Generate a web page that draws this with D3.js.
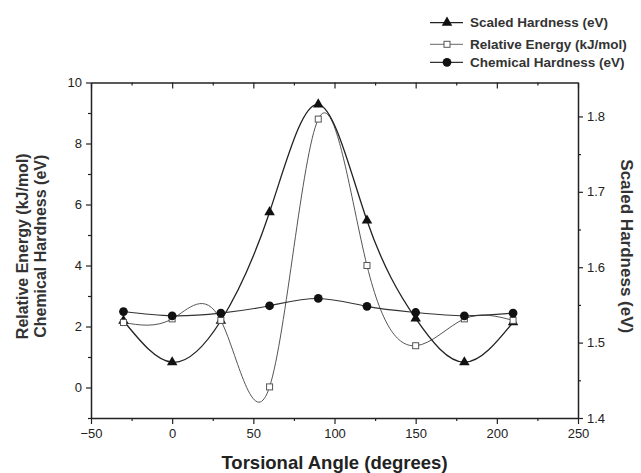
<!DOCTYPE html>
<html>
<head>
<meta charset="utf-8">
<script src="https://cdn.jsdelivr.net/npm/d3@7"></script>
<style>
  html, body { margin: 0; padding: 0; background: #fff; }
  svg { display: block; font-family: "Liberation Sans", Arial, sans-serif; }
</style>
</head>
<body>
<div id="chart"></div>
<script>
// torsional angle vs hardness / energy, dual y axis

const angles = [-30, 0, 30, 60, 90, 120, 150, 180, 210];
const scaledHardness = [1.529, 1.474, 1.529, 1.673, 1.816, 1.662, 1.532, 1.474, 1.527];
const relativeEnergy = [2.13, 2.25, 2.2, 0.02, 8.8, 4.0, 1.37, 2.25, 2.2];
const chemicalHardness = [2.49, 2.35, 2.44, 2.68, 2.92, 2.66, 2.46, 2.35, 2.44];

const xTicks = [-50, 0, 50, 100, 150, 200, 250];
const xMinorTicks = [-25, 25, 75, 125, 175, 225];
const leftTicks = [0, 2, 4, 6, 8, 10];
const leftMinorTicks = [-1, 1, 3, 5, 7, 9];
const rightTicks = [1.4, 1.5, 1.6, 1.7, 1.8];
const rightMinorTicks = [1.45, 1.55, 1.65, 1.75];

const legendLabels = ["Scaled Hardness (eV)", "Relative Energy (kJ/mol)", "Chemical Hardness (eV)"];

function drawChart() {
  const width = 641;
  const height = 473;
  const left = 91, right = 578, top = 82.5, bottom = 418;
  const ink = "#222";

  const svg = d3.select("#chart").append("svg")
    .attr("width", width)
    .attr("height", height);

  const x = d3.scaleLinear().domain([-50, 250]).range([left, right]);
  const yLeft = d3.scaleLinear().domain([-1, 10]).range([bottom, top]);
  const yRight = d3.scaleLinear().domain([1.4, 1.845]).range([bottom, top]);

  function styleAxis(g, fontSize) {
    g.select(".domain").attr("stroke", ink).attr("stroke-width", 1.5);
    g.selectAll(".tick line").attr("stroke", ink).attr("stroke-width", 1.2);
    g.selectAll(".tick text")
      .attr("fill", "#222")
      .attr("font-size", fontSize)
      .attr("font-family", "'Liberation Sans', Arial, sans-serif");
  }

  // bottom axis
  const gx = svg.append("g")
    .attr("transform", "translate(0," + bottom + ")")
    .call(d3.axisBottom(x).tickValues(xTicks).tickSize(6).tickPadding(5).tickSizeOuter(0));
  styleAxis(gx, 13);
  svg.append("g")
    .attr("transform", "translate(0," + bottom + ")")
    .call(d3.axisBottom(x).tickValues(xMinorTicks).tickSize(3).tickFormat(""))
    .call(function(g) { styleAxis(g, 13); g.select(".domain").remove(); });

  // top axis, ticks pointing in
  const gt = svg.append("g")
    .attr("transform", "translate(0," + top + ")")
    .call(d3.axisBottom(x).tickValues(xTicks).tickSize(6).tickFormat("").tickSizeOuter(0));
  styleAxis(gt, 13);
  svg.append("g")
    .attr("transform", "translate(0," + top + ")")
    .call(d3.axisBottom(x).tickValues(xMinorTicks).tickSize(3).tickFormat(""))
    .call(function(g) { styleAxis(g, 13); g.select(".domain").remove(); });

  // left axis
  const gl = svg.append("g")
    .attr("transform", "translate(" + left + ",0)")
    .call(d3.axisLeft(yLeft).tickValues(leftTicks).tickSize(5).tickPadding(4).tickSizeOuter(0));
  styleAxis(gl, 13);
  svg.append("g")
    .attr("transform", "translate(" + left + ",0)")
    .call(d3.axisLeft(yLeft).tickValues(leftMinorTicks).tickSize(3).tickFormat(""))
    .call(function(g) { styleAxis(g, 13); g.select(".domain").remove(); });

  // right axis
  const gr = svg.append("g")
    .attr("transform", "translate(" + right + ",0)")
    .call(d3.axisRight(yRight).tickValues(rightTicks).tickSize(5).tickPadding(4)
      .tickFormat(d3.format(".1f")).tickSizeOuter(0));
  styleAxis(gr, 13);
  svg.append("g")
    .attr("transform", "translate(" + right + ",0)")
    .call(d3.axisRight(yRight).tickValues(rightMinorTicks).tickSize(3).tickFormat(""))
    .call(function(g) { styleAxis(g, 13); g.select(".domain").remove(); });

  // axis titles
  svg.append("text")
    .attr("x", (left + right) / 2)
    .attr("y", 469)
    .attr("text-anchor", "middle")
    .attr("font-size", 18.5)
    .attr("font-weight", "bold")
    .attr("fill", "#222")
    .text("Torsional Angle (degrees)");

  const midY = (top + bottom) / 2;
  svg.append("text")
    .attr("transform", "translate(28," + (midY - 4) + ") rotate(-90)")
    .attr("text-anchor", "middle")
    .attr("font-size", 16)
    .attr("font-weight", "bold")
    .attr("fill", "#333")
    .text("Relative Energy (kJ/mol)");
  svg.append("text")
    .attr("transform", "translate(46," + (midY - 4) + ") rotate(-90)")
    .attr("text-anchor", "middle")
    .attr("font-size", 16)
    .attr("font-weight", "bold")
    .attr("fill", "#333")
    .text("Chemical Hardness (eV)");
  svg.append("text")
    .attr("transform", "translate(621," + (midY - 4) + ") rotate(90)")
    .attr("text-anchor", "middle")
    .attr("font-size", 17)
    .attr("font-weight", "bold")
    .attr("fill", "#333")
    .text("Scaled Hardness (eV)");

  const rows = angles.map(function(a, i) {
    return { a: a, sh: scaledHardness[i], re: relativeEnergy[i], ch: chemicalHardness[i] };
  });

  const curve = d3.curveNatural;

  const lineSH = d3.line().curve(curve)
    .x(function(d) { return x(d.a); })
    .y(function(d) { return yRight(d.sh); });
  const lineRE = d3.line().curve(curve)
    .x(function(d) { return x(d.a); })
    .y(function(d) { return yLeft(d.re); });
  const lineCH = d3.line().curve(curve)
    .x(function(d) { return x(d.a); })
    .y(function(d) { return yLeft(d.ch); });

  svg.append("path").datum(rows)
    .attr("d", lineRE).attr("fill", "none").attr("stroke", "#555").attr("stroke-width", 1);
  svg.append("path").datum(rows)
    .attr("d", lineSH).attr("fill", "none").attr("stroke", "#222").attr("stroke-width", 1.3);
  svg.append("path").datum(rows)
    .attr("d", lineCH).attr("fill", "none").attr("stroke", "#333").attr("stroke-width", 1.1);

  const tri = d3.symbol().type(d3.symbolTriangle).size(48);
  const circ = d3.symbol().type(d3.symbolCircle).size(60);

  svg.append("g").selectAll("path")
    .data(rows)
    .join("path")
    .attr("transform", function(d) { return "translate(" + x(d.a) + "," + yRight(d.sh) + ")"; })
    .attr("d", tri)
    .attr("fill", "#111");

  svg.append("g").selectAll("rect")
    .data(rows)
    .join("rect")
    .attr("x", function(d) { return x(d.a) - 3; })
    .attr("y", function(d) { return yLeft(d.re) - 3; })
    .attr("width", 6)
    .attr("height", 6)
    .attr("fill", "#fff")
    .attr("stroke", "#555")
    .attr("stroke-width", 1);

  svg.append("g").selectAll("path")
    .data(rows)
    .join("path")
    .attr("transform", function(d) { return "translate(" + x(d.a) + "," + yLeft(d.ch) + ")"; })
    .attr("d", circ)
    .attr("fill", "#111");

  // legend
  const legendY = [22.7, 44.3, 62.3];
  const legendStroke = ["#222", "#666", "#333"];
  const legend = svg.append("g");
  legendLabels.forEach(function(label, i) {
    const y = legendY[i];
    legend.append("line")
      .attr("x1", 430).attr("x2", 463)
      .attr("y1", y).attr("y2", y)
      .attr("stroke", legendStroke[i])
      .attr("stroke-width", i === 1 ? 1 : 1.3);
    if (i === 0) {
      legend.append("path")
        .attr("transform", "translate(447," + y + ")")
        .attr("d", tri).attr("fill", "#111");
    } else if (i === 1) {
      legend.append("rect")
        .attr("x", 444).attr("y", y - 3).attr("width", 6).attr("height", 6)
        .attr("fill", "#fff").attr("stroke", "#555");
    } else {
      legend.append("path")
        .attr("transform", "translate(447," + y + ")")
        .attr("d", circ).attr("fill", "#111");
    }
    legend.append("text")
      .attr("x", 470)
      .attr("y", y + 4.5)
      .attr("font-size", 13.5)
      .attr("font-weight", "bold")
      .attr("fill", "#333")
      .text(label);
  });
}

if (document.readyState === "loading") {
  document.addEventListener("DOMContentLoaded", drawChart);
} else {
  drawChart();
}
</script>
</body>
</html>
